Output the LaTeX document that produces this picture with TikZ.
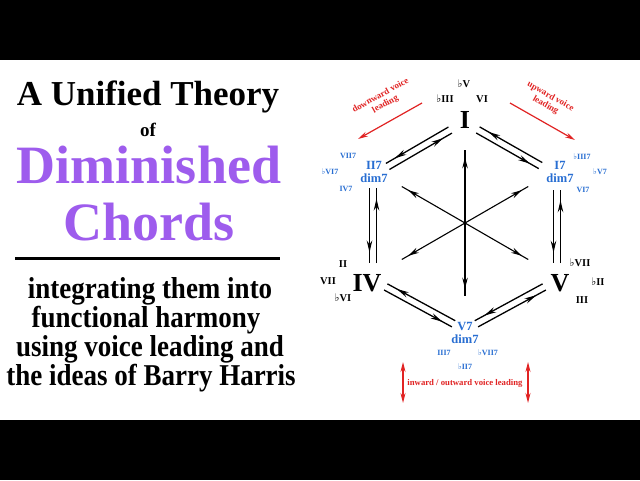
\documentclass[tikz,border=0pt]{standalone}
\usepackage{fontspec}
\setmainfont{Liberation Serif}
\newfontfamily\flatfont{DejaVu Sans}
\usetikzlibrary{positioning,calc,arrows.meta,decorations.markings}

\definecolor{chordblue}{RGB}{40,110,210}
\definecolor{leadred}{RGB}{225,35,35}
\definecolor{dimpurple}{RGB}{158,92,237}

\newcommand{\fl}{{\flatfont\char"266D}}
\newcommand{\tall}[1]{\scalebox{1}[1.12]{#1}}

% two opposite voice-leading arrows between two hubs
\newcommand{\road}[4]{%
  \coordinate (ra) at ($(#1)!#3!(#2)$);
  \coordinate (rb) at ($(#2)!#4!(#1)$);
  \draw[lead] ($(ra)!3.5pt!-90:(rb)$) -- ($(rb)!3.5pt!90:(ra)$);
  \draw[lead] ($(rb)!3.5pt!-90:(ra)$) -- ($(ra)!3.5pt!90:(rb)$);
}

\tikzset{
  roman/.style={font=\bfseries\fontsize{10.5}{12}\selectfont, inner sep=0pt},
  bigroman/.style={font=\bfseries\fontsize{26}{26}\selectfont, inner sep=0pt},
  dimchord/.style={font=\bfseries\fontsize{12.5}{13}\selectfont, text=chordblue,
    align=center, inner sep=0pt},
  dimsmall/.style={font=\bfseries\fontsize{8}{9}\selectfont, text=chordblue, inner sep=0pt},
  redtext/.style={font=\bfseries\fontsize{9}{10}\selectfont, text=leadred,
    align=center, inner sep=0pt},
  lead/.style={line width=1.3pt, postaction={decorate},
    decoration={markings, mark=at position 0.86 with {\arrow{Stealth[length=12pt,width=5.5pt]}}}},
  arm/.style={line width=1.1pt, postaction={decorate},
    decoration={markings, mark=at position 0.9 with {\arrow{Stealth[length=11pt,width=5.5pt]}}}},
  redarrow/.style={draw=leadred, line width=1.2pt, -{Stealth[length=10pt,width=5pt]}},
  title/.style={font=\bfseries\fontsize{35}{36}\selectfont, anchor=base},
  subline/.style={font=\bfseries\fontsize{27}{28}\selectfont, anchor=base},
}

\begin{document}
\begin{tikzpicture}[x=1pt,y=-1pt]

\useasboundingbox (0,0) rectangle (640,480);
\fill[black] (0,0) rectangle (640,60);
\fill[white] (0,60) rectangle (640,420);
\fill[black] (0,420) rectangle (640,480);

% Title
\node[title] (unified) at (148,105) {A Unified Theory};
\node[title, font=\bfseries\fontsize{19}{20}\selectfont] (of) at (148,136) {of};
\node[title, font=\bfseries\fontsize{54}{55}\selectfont, text=dimpurple] (dimin) at (149,183) {Diminished};
\node[title, font=\bfseries\fontsize{54}{55}\selectfont, text=dimpurple] (chords) at (149,240) {Chords};
\draw[line width=3pt] (15,258) -- (280,258);

% Subtitle
\node[subline] (sub1) at (150,298) {\tall{integrating them into}};
\node[subline] (sub2) at (146,327) {\tall{functional harmony}};
\node[subline] (sub3) at (150,356) {\tall{using voice leading and}};
\node[subline] (sub4) at (151,385) {\tall{the ideas of Barry Harris}};

% Hubs of the hexagon
\coordinate (hubI) at (464,122);
\coordinate (hubIdim) at (557,175);
\coordinate (hubV) at (557,280);
\coordinate (hubVdim) at (465,330);
\coordinate (hubIV) at (373,280);
\coordinate (hubIIdim) at (373,175);
\coordinate (ctr) at (465,223);

% Chords
\node[bigroman] (chI) at (465,120) {I};
\node[bigroman] (chIV) at (367,283) {IV};
\node[bigroman] (chV) at (560,283) {V};
\node[dimchord] (chIIdim) at (374,172) {II7\\dim7};
\node[dimchord] (chIdim) at (560,172) {I7\\dim7};
\node[dimchord] (chVdim) at (465,333) {V7\\dim7};

% Related roots
\node[roman] (flatV) at (464,84) {\fl V};
\node[roman] (flatIII) at (445,99) {\fl III};
\node[roman] (six) at (482,99) {VI};
\node[roman] (two) at (343,264) {II};
\node[roman] (seven) at (328,281) {VII};
\node[roman] (flatVI) at (343,298) {\fl VI};
\node[roman] (flatVII) at (580,263) {\fl VII};
\node[roman] (flatII) at (598,282) {\fl II};
\node[roman] (three) at (582,300) {III};

\node[dimsmall] (sevenS) at (348,156) {VII7};
\node[dimsmall] (flatVIS) at (330,172) {\fl VI7};
\node[dimsmall] (fourS) at (346,189) {IV7};
\node[dimsmall] (flatIIIS) at (582,157) {\fl III7};
\node[dimsmall] (flatVS) at (600,172) {\fl V7};
\node[dimsmall] (sixS) at (583,190) {VI7};
\node[dimsmall] (threeS) at (444,353) {III7};
\node[dimsmall] (flatVIIS) at (488,353) {\fl VII7};
\node[dimsmall] (flatIIS) at (465,367) {\fl II7};

% Voice leading around the hexagon
\road{hubI}{hubIIdim}{16pt}{17pt}
\road{hubIIdim}{hubIV}{13pt}{17pt}
\road{hubIV}{hubVdim}{14.5pt}{13pt}
\road{hubVdim}{hubV}{13pt}{14.5pt}
\road{hubV}{hubIdim}{17pt}{15pt}
\road{hubIdim}{hubI}{19pt}{16pt}

% Star through the middle
\foreach \a [count=\i] in {90,30,-30,-90,-150,150} {
  \coordinate (arm\i) at ($(ctr)+(\a:73)$);
  \draw[arm] (ctr) -- (arm\i);
}

% Red voice leading hints
\coordinate (dnA) at (422,103);
\coordinate (dnB) at (358,139);
\coordinate (upA) at (510,103);
\coordinate (upB) at (575,140);
\draw[redarrow] (dnA) -- (dnB);
\draw[redarrow] (upA) -- (upB);
\node[redtext, rotate=29] (downtxt) at (383,100) {downward voice\\leading};
\node[redtext, rotate=-29] (uptxt) at (548,101) {upward voice\\leading};

\coordinate (inA) at (403,362);
\coordinate (inB) at (403,403);
\coordinate (outA) at (528,362);
\coordinate (outB) at (528,403);
\draw[redarrow, {Stealth[length=10pt,width=5pt]}-{Stealth[length=10pt,width=5pt]}] (inA) -- (inB);
\draw[redarrow, {Stealth[length=10pt,width=5pt]}-{Stealth[length=10pt,width=5pt]}] (outA) -- (outB);
\node[redtext, font=\bfseries\fontsize{8.7}{10}\selectfont] (inouttxt) at (465,383) {inward / outward voice leading};

\end{tikzpicture}
\end{document}
